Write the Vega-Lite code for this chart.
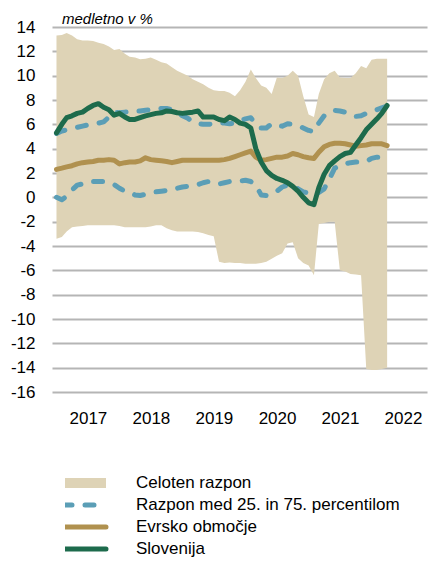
{
  "$schema": "https://vega.github.io/schema/vega-lite/v6.json",
  "width": 375,
  "height": 365,
  "autosize": {"type": "none"},
  "padding": {"left": 52, "top": 27, "right": 1, "bottom": 169},
  "background": "white",
  "title": {"text": "medletno v %", "anchor": "start", "frame": "group", "dx": 10, "dy": 13, "offset": 4, "fontSize": 15, "fontStyle": "italic", "fontWeight": "normal", "font": "Liberation Sans", "color": "black"},
  "config": {
    "view": {"stroke": null},
    "font": "Liberation Sans",
    "axis": {"labelFont": "Liberation Sans", "labelFontSize": 17, "labelColor": "black", "domain": false, "ticks": false, "tickSize": 0, "title": null, "labelOverlap": false}
  },
  "data": {"values": [
    {"date": "2017-01-01", "lo": -3.4, "hi": 13.3, "p25": 0.0, "p75": 5.25, "ea": 2.3, "si": 5.3},
    {"date": "2017-02-01", "lo": -3.25, "hi": 13.35, "p25": -0.2, "p75": 5.45, "ea": 2.4, "si": 6.0},
    {"date": "2017-03-01", "lo": -2.8, "hi": 13.5, "p25": 0.1, "p75": 5.55, "ea": 2.5, "si": 6.55},
    {"date": "2017-04-01", "lo": -2.45, "hi": 13.3, "p25": 0.6, "p75": 5.65, "ea": 2.6, "si": 6.7},
    {"date": "2017-05-01", "lo": -2.4, "hi": 13.0, "p25": 1.0, "p75": 5.75, "ea": 2.75, "si": 6.9},
    {"date": "2017-06-01", "lo": -2.35, "hi": 12.9, "p25": 1.1, "p75": 5.85, "ea": 2.85, "si": 7.0},
    {"date": "2017-07-01", "lo": -2.3, "hi": 12.9, "p25": 1.25, "p75": 5.95, "ea": 2.9, "si": 7.3},
    {"date": "2017-08-01", "lo": -2.3, "hi": 12.85, "p25": 1.3, "p75": 6.05, "ea": 2.95, "si": 7.55},
    {"date": "2017-09-01", "lo": -2.3, "hi": 12.7, "p25": 1.3, "p75": 6.1, "ea": 3.05, "si": 7.7},
    {"date": "2017-10-01", "lo": -2.3, "hi": 12.6, "p25": 1.3, "p75": 6.2, "ea": 3.05, "si": 7.4},
    {"date": "2017-11-01", "lo": -2.3, "hi": 12.4, "p25": 1.2, "p75": 6.6, "ea": 3.1, "si": 7.2},
    {"date": "2017-12-01", "lo": -2.3, "hi": 12.1, "p25": 1.05, "p75": 7.0, "ea": 3.05, "si": 6.75},
    {"date": "2018-01-01", "lo": -2.35, "hi": 12.2, "p25": 0.75, "p75": 6.95, "ea": 2.75, "si": 6.9},
    {"date": "2018-02-01", "lo": -2.45, "hi": 11.8, "p25": 0.5, "p75": 7.0, "ea": 2.85, "si": 6.6},
    {"date": "2018-03-01", "lo": -2.45, "hi": 11.55, "p25": 0.4, "p75": 7.05, "ea": 2.9, "si": 6.4},
    {"date": "2018-04-01", "lo": -2.45, "hi": 11.5, "p25": 0.2, "p75": 7.1, "ea": 2.9, "si": 6.4},
    {"date": "2018-05-01", "lo": -2.45, "hi": 11.35, "p25": 0.15, "p75": 7.1, "ea": 3.0, "si": 6.55},
    {"date": "2018-06-01", "lo": -2.45, "hi": 11.4, "p25": 0.25, "p75": 7.15, "ea": 3.25, "si": 6.7},
    {"date": "2018-07-01", "lo": -2.4, "hi": 11.5, "p25": 0.35, "p75": 7.2, "ea": 3.1, "si": 6.8},
    {"date": "2018-08-01", "lo": -2.3, "hi": 11.3, "p25": 0.45, "p75": 7.25, "ea": 3.05, "si": 6.9},
    {"date": "2018-09-01", "lo": -2.3, "hi": 11.1, "p25": 0.5, "p75": 7.3, "ea": 3.0, "si": 6.95},
    {"date": "2018-10-01", "lo": -2.55, "hi": 11.0, "p25": 0.55, "p75": 7.3, "ea": 2.95, "si": 7.1},
    {"date": "2018-11-01", "lo": -2.7, "hi": 10.7, "p25": 0.6, "p75": 7.2, "ea": 2.85, "si": 7.05},
    {"date": "2018-12-01", "lo": -2.8, "hi": 10.4, "p25": 0.75, "p75": 7.0, "ea": 2.95, "si": 6.95},
    {"date": "2019-01-01", "lo": -2.8, "hi": 10.2, "p25": 0.85, "p75": 6.7, "ea": 3.05, "si": 6.9},
    {"date": "2019-02-01", "lo": -2.8, "hi": 10.0, "p25": 0.9, "p75": 6.5, "ea": 3.05, "si": 6.95},
    {"date": "2019-03-01", "lo": -2.8, "hi": 9.7, "p25": 1.0, "p75": 6.2, "ea": 3.05, "si": 7.0},
    {"date": "2019-04-01", "lo": -2.85, "hi": 9.5, "p25": 1.05, "p75": 6.05, "ea": 3.05, "si": 7.1},
    {"date": "2019-05-01", "lo": -2.95, "hi": 9.3, "p25": 1.2, "p75": 6.0, "ea": 3.05, "si": 6.6},
    {"date": "2019-06-01", "lo": -3.1, "hi": 9.0, "p25": 1.3, "p75": 6.0, "ea": 3.05, "si": 6.6},
    {"date": "2019-07-01", "lo": -3.2, "hi": 8.8, "p25": 1.2, "p75": 6.05, "ea": 3.05, "si": 6.6},
    {"date": "2019-08-01", "lo": -5.3, "hi": 8.75, "p25": 1.1, "p75": 6.15, "ea": 3.05, "si": 6.4},
    {"date": "2019-09-01", "lo": -5.4, "hi": 8.75, "p25": 1.2, "p75": 6.1, "ea": 3.1, "si": 6.3},
    {"date": "2019-10-01", "lo": -5.35, "hi": 8.6, "p25": 1.3, "p75": 6.05, "ea": 3.2, "si": 6.6},
    {"date": "2019-11-01", "lo": -5.4, "hi": 8.3, "p25": 1.3, "p75": 6.1, "ea": 3.35, "si": 6.4},
    {"date": "2019-12-01", "lo": -5.4, "hi": 8.8, "p25": 1.35, "p75": 6.3, "ea": 3.5, "si": 6.1},
    {"date": "2020-01-01", "lo": -5.45, "hi": 9.5, "p25": 1.4, "p75": 6.45, "ea": 3.65, "si": 6.0},
    {"date": "2020-02-01", "lo": -5.45, "hi": 10.5, "p25": 1.3, "p75": 6.55, "ea": 3.8, "si": 5.7},
    {"date": "2020-03-01", "lo": -5.45, "hi": 9.8, "p25": 1.0, "p75": 6.0, "ea": 3.3, "si": 4.0},
    {"date": "2020-04-01", "lo": -5.4, "hi": 9.2, "p25": 0.2, "p75": 5.7, "ea": 3.05, "si": 2.9},
    {"date": "2020-05-01", "lo": -5.3, "hi": 9.0, "p25": 0.15, "p75": 5.7, "ea": 3.1, "si": 2.2},
    {"date": "2020-06-01", "lo": -5.05, "hi": 8.5, "p25": 0.25, "p75": 6.05, "ea": 3.2, "si": 1.8},
    {"date": "2020-07-01", "lo": -4.8, "hi": 9.85, "p25": 0.5, "p75": 5.95, "ea": 3.3, "si": 1.55},
    {"date": "2020-08-01", "lo": -4.6, "hi": 9.8, "p25": 0.85, "p75": 5.85, "ea": 3.3, "si": 1.4},
    {"date": "2020-09-01", "lo": -3.8, "hi": 10.0, "p25": 1.0, "p75": 6.05, "ea": 3.4, "si": 1.2},
    {"date": "2020-10-01", "lo": -3.7, "hi": 10.4, "p25": 0.9, "p75": 6.0, "ea": 3.6, "si": 0.9},
    {"date": "2020-11-01", "lo": -5.0, "hi": 10.0, "p25": 0.7, "p75": 5.9, "ea": 3.5, "si": 0.5},
    {"date": "2020-12-01", "lo": -5.4, "hi": 8.3, "p25": 0.45, "p75": 5.7, "ea": 3.35, "si": 0.0},
    {"date": "2021-01-01", "lo": -5.6, "hi": 6.8, "p25": 0.35, "p75": 5.5, "ea": 3.25, "si": -0.45},
    {"date": "2021-02-01", "lo": -6.4, "hi": 6.6, "p25": 0.3, "p75": 5.4, "ea": 3.2, "si": -0.6},
    {"date": "2021-03-01", "lo": -2.2, "hi": 8.5, "p25": 0.4, "p75": 6.1, "ea": 3.7, "si": 0.8},
    {"date": "2021-04-01", "lo": -2.1, "hi": 9.7, "p25": 0.7, "p75": 6.7, "ea": 4.15, "si": 1.9},
    {"date": "2021-05-01", "lo": -2.0, "hi": 10.2, "p25": 1.5, "p75": 7.0, "ea": 4.35, "si": 2.6},
    {"date": "2021-06-01", "lo": -2.0, "hi": 10.4, "p25": 2.4, "p75": 7.15, "ea": 4.45, "si": 3.0},
    {"date": "2021-07-01", "lo": -6.0, "hi": 9.85, "p25": 2.6, "p75": 7.1, "ea": 4.45, "si": 3.35},
    {"date": "2021-08-01", "lo": -6.1, "hi": 9.8, "p25": 2.75, "p75": 7.0, "ea": 4.4, "si": 3.6},
    {"date": "2021-09-01", "lo": -6.3, "hi": 9.8, "p25": 2.85, "p75": 6.9, "ea": 4.3, "si": 3.7},
    {"date": "2021-10-01", "lo": -6.35, "hi": 10.2, "p25": 2.9, "p75": 6.65, "ea": 4.2, "si": 4.3},
    {"date": "2021-11-01", "lo": -6.4, "hi": 10.8, "p25": 2.9, "p75": 6.7, "ea": 4.25, "si": 4.9},
    {"date": "2021-12-01", "lo": -14.1, "hi": 10.6, "p25": 2.95, "p75": 6.9, "ea": 4.3, "si": 5.55},
    {"date": "2022-01-01", "lo": -14.2, "hi": 11.3, "p25": 3.2, "p75": 7.05, "ea": 4.4, "si": 6.0},
    {"date": "2022-02-01", "lo": -14.2, "hi": 11.4, "p25": 3.3, "p75": 7.2, "ea": 4.4, "si": 6.45},
    {"date": "2022-03-01", "lo": -14.1, "hi": 11.4, "p25": 3.3, "p75": 7.35, "ea": 4.4, "si": 6.9},
    {"date": "2022-04-01", "lo": -14.0, "hi": 11.4, "p25": 3.3, "p75": 7.5, "ea": 4.25, "si": 7.55}
  ]},
  "encoding": {
    "x": {
      "field": "date", "type": "temporal",
      "scale": {"type": "utc", "domain": [{"year": 2016, "month": 12, "date": 6, "utc": true}, {"year": 2022, "month": 11, "date": 18, "utc": true}]},
      "axis": {
        "grid": false, "format": "%Y", "labelPadding": 18, "labelFlush": false,
        "values": [
          {"year": 2017, "month": 7, "date": 2, "utc": true},
          {"year": 2018, "month": 7, "date": 2, "utc": true},
          {"year": 2019, "month": 7, "date": 2, "utc": true},
          {"year": 2020, "month": 7, "date": 2, "utc": true},
          {"year": 2021, "month": 7, "date": 2, "utc": true},
          {"year": 2022, "month": 7, "date": 2, "utc": true}
        ]
      }
    }
  },
  "layer": [
    {
      "mark": {"type": "area", "color": "#DED3B6", "opacity": 1},
      "encoding": {
        "y": {"field": "lo", "type": "quantitative", "scale": {"domain": [-16, 14], "nice": false, "zero": false},
          "axis": {"values": [-16, -14, -12, -10, -8, -6, -4, -2, 0, 2, 4, 6, 8, 10, 12, 14], "tickCount": 16, "labelExpr": "'' + datum.value", "grid": true, "gridColor": "#b5b5b5", "gridWidth": 1.8, "labelPadding": 17, "labelOverlap": false}},
        "y2": {"field": "hi"}
      }
    },
    {
      "mark": {"type": "line", "strokeWidth": 5, "strokeDash": [9, 13], "strokeCap": "round", "strokeJoin": "round"},
      "encoding": {"y": {"field": "p25", "type": "quantitative",
          "axis": {"values": [-16, -14, -12, -10, -8, -6, -4, -2, 0, 2, 4, 6, 8, 10, 12, 14], "tickCount": 16, "labelExpr": "'' + datum.value", "grid": true, "gridColor": "#b5b5b5", "gridWidth": 1.8, "labelPadding": 17, "labelOverlap": false}},
        "color": {"datum": "Razpon med 25. in 75. percentilom"}}
    },
    {
      "mark": {"type": "line", "strokeWidth": 5, "strokeDash": [9, 13], "strokeCap": "round", "strokeJoin": "round"},
      "encoding": {"y": {"field": "p75", "type": "quantitative",
          "axis": {"values": [-16, -14, -12, -10, -8, -6, -4, -2, 0, 2, 4, 6, 8, 10, 12, 14], "tickCount": 16, "labelExpr": "'' + datum.value", "grid": true, "gridColor": "#b5b5b5", "gridWidth": 1.8, "labelPadding": 17, "labelOverlap": false}},
        "color": {"datum": "Razpon med 25. in 75. percentilom"}}
    },
    {
      "mark": {"type": "line", "strokeWidth": 5, "strokeCap": "round", "strokeJoin": "round"},
      "encoding": {"y": {"field": "ea", "type": "quantitative",
          "axis": {"values": [-16, -14, -12, -10, -8, -6, -4, -2, 0, 2, 4, 6, 8, 10, 12, 14], "tickCount": 16, "labelExpr": "'' + datum.value", "grid": true, "gridColor": "#b5b5b5", "gridWidth": 1.8, "labelPadding": 17, "labelOverlap": false}},
        "color": {"datum": "Evrsko območje"}}
    },
    {
      "mark": {"type": "line", "strokeWidth": 5, "strokeCap": "round", "strokeJoin": "round"},
      "encoding": {
        "y": {"field": "si", "type": "quantitative",
          "axis": {"values": [-16, -14, -12, -10, -8, -6, -4, -2, 0, 2, 4, 6, 8, 10, 12, 14], "tickCount": 16, "labelExpr": "'' + datum.value", "grid": true, "gridColor": "#b5b5b5", "gridWidth": 1.8, "labelPadding": 17, "labelOverlap": false}},
        "color": {
          "datum": "Slovenija",
          "scale": {
            "domain": ["Celoten razpon", "Razpon med 25. in 75. percentilom", "Evrsko območje", "Slovenija"],
            "range": ["#DED3B6", "#5B9EB6", "#B0914F", "#1D6B4C"]
          },
          "legend": {
            "title": null, "orient": "none", "legendX": 13, "legendY": 445, "padding": 0,
            "symbolType": "stroke", "symbolSize": 4225, "clipHeight": 22, "rowPadding": 0,
            "labelFont": "Liberation Sans", "labelFontSize": 17, "labelColor": "black", "labelOffset": 54, "labelLimit": 400,
            "encode": {
              "symbols": {"update": {
                "fill": {"value": "transparent"},
                "stroke": {"scale": "color", "field": "value"},
                "strokeWidth": {"signal": "datum.value === 'Celoten razpon' ? 10 : 5"},
                "strokeDash": {"signal": "datum.value === 'Razpon med 25. in 75. percentilom' ? [9, 13] : [1, 0]"},
                "strokeCap": {"signal": "datum.value === 'Celoten razpon' ? 'butt' : 'round'"},
                "opacity": {"value": 1}
              }}
            }
          }
        }
      }
    }
  ]
}
